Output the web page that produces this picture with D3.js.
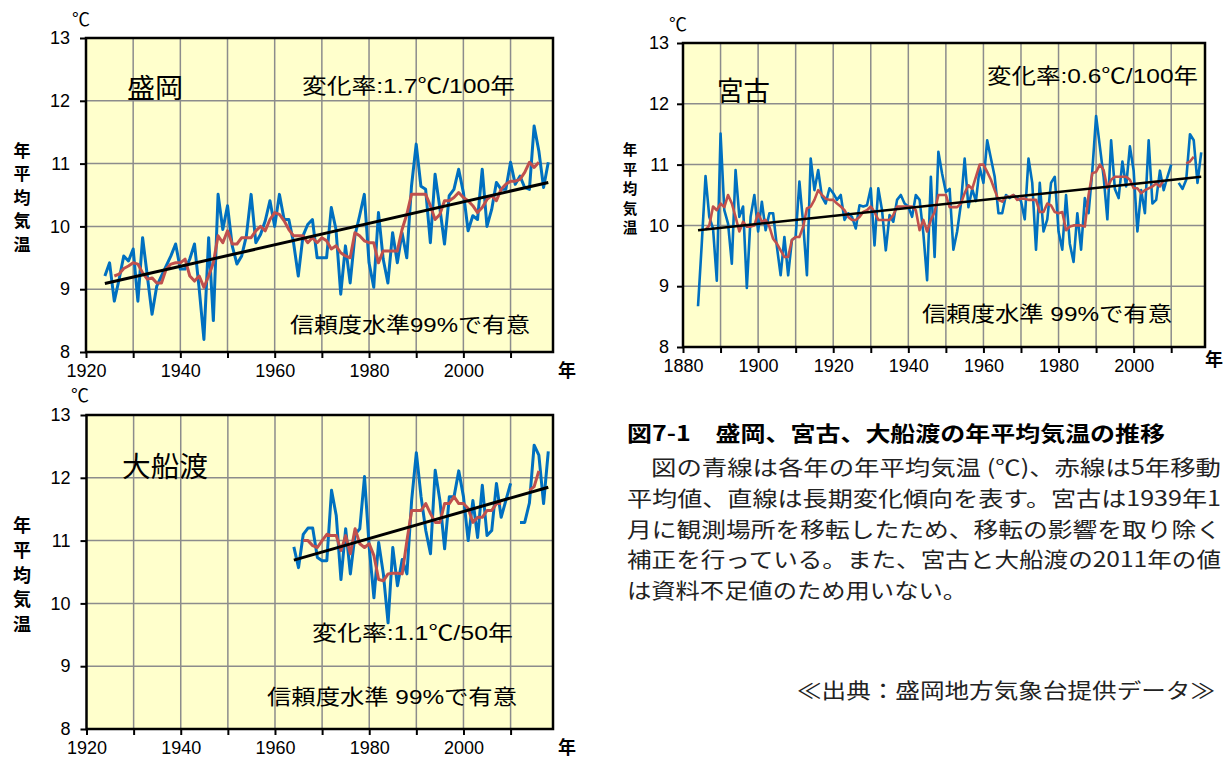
<!DOCTYPE html>
<html><head><meta charset="utf-8">
<script src="https://cdn.jsdelivr.net/npm/d3@7"></script>
<style>body{margin:0;background:#fff;}svg{display:block}</style>
</head><body>
<svg id="c" width="1230" height="758"></svg>
<script>
// ---------------- DATA ----------------
const yTicks = [8, 9, 10, 11, 12, 13];
const modernXTicks = [1920, 1930, 1940, 1950, 1960, 1970, 1980, 1990, 2000, 2010];
const modernXLabels = [1920, 1940, 1960, 1980, 2000];
const miyakoXTicks = [1880, 1890, 1900, 1910, 1920, 1930, 1940, 1950, 1960, 1970, 1980, 1990, 2000, 2010];
const miyakoXLabels = [1880, 1900, 1920, 1940, 1960, 1980, 2000];

// 盛岡 annual mean temperature, 1924-2018
const moriokaStart = 1924;
const moriokaTemp = [
  9.21, 9.42, 8.81, 9.15, 9.53, 9.45,
  9.64, 8.81, 9.82, 9.21, 8.60, 9.05, 9.21, 9.37, 9.53, 9.72,
  9.32, 9.32, 9.48, 9.72, 9.00, 8.20, 9.82, 8.50, 10.51, 9.95,
  10.33, 9.69, 9.40, 9.53, 9.85, 10.51, 9.74, 9.87, 10.09, 10.41,
  10.00, 10.51, 10.11, 10.11, 9.74, 9.21, 9.85, 10.03, 10.11, 9.50,
  9.50, 9.50, 10.30, 9.95, 8.92, 9.69, 9.10, 9.85, 10.17, 10.51,
  9.42, 9.03, 10.22, 9.48, 9.10, 9.90, 9.42, 9.90, 9.50, 10.64,
  11.31, 10.64, 10.59, 9.74, 10.83, 10.30, 9.72, 10.49, 10.59, 10.91,
  10.54, 9.93, 10.17, 10.11, 10.91, 10.00, 10.27, 10.70, 10.59, 10.59,
  11.02, 10.67, 10.80, 10.62, 10.59, 11.60, 11.20, 10.62, 11.02
];
// 盛岡 5-year moving average, 1926-2016
const moriokaAvgStart = 1926;
const moriokaAvg = [
  9.21, 9.24, 9.33, 9.37,
  9.42, 9.40, 9.26, 9.16, 9.18, 9.10, 9.10, 9.32, 9.40, 9.42,
  9.42, 9.48, 9.21, 9.13, 9.21, 9.03, 9.21, 9.42, 9.85, 9.74,
  9.93, 9.72, 9.72, 9.82, 9.82, 9.82, 9.93, 10.00, 9.93, 10.11,
  10.22, 10.19, 10.09, 9.95, 9.85, 9.85, 9.85, 9.74, 9.82, 9.74,
  9.82, 9.77, 9.64, 9.69, 9.58, 9.53, 9.50, 9.90, 9.85, 9.77,
  9.74, 9.74, 9.42, 9.61, 9.61, 9.61, 9.61, 9.95, 10.19, 10.51,
  10.51, 10.51, 10.51, 10.33, 10.11, 10.19, 10.41, 10.41, 10.46, 10.54,
  10.46, 10.41, 10.33, 10.22, 10.30, 10.43, 10.49, 10.41, 10.59, 10.67,
  10.72, 10.72, 10.75, 10.86, 11.02, 10.94, 11.02
];
const moriokaTrendYears = [1924, 2018];
const moriokaTrend = [9.09, 10.70];

// 宮古 annual mean temperature, 1884-2018 (2011 missing)
const miyakoStart = 1884;
const miyakoTemp = [
  8.67, 9.70, 10.81, 10.14, 9.95, 9.09,
  11.51, 10.25, 10.03, 9.37, 10.91, 10.14, 10.31, 8.97, 10.14, 10.50,
  9.90, 10.39, 9.92, 10.20, 10.20, 9.65, 9.18, 9.81, 9.18, 9.76,
  9.81, 10.72, 10.03, 9.18, 11.10, 10.58, 10.91, 10.47, 10.36, 10.61,
  10.53, 10.42, 10.50, 10.09, 10.20, 10.14, 9.95, 10.33, 10.31, 10.33,
  10.61, 9.67, 10.61, 10.25, 9.59, 10.17, 10.06, 10.42, 10.50, 10.36,
  10.31, 10.14, 10.50, 10.42, 9.87, 9.10, 10.80, 9.48, 11.21, 10.85,
  10.55, 10.60, 9.60, 9.90, 10.35, 11.10, 10.30, 10.60, 10.40, 10.95,
  10.70, 11.40, 11.10, 10.80, 10.20, 10.20, 10.50, 10.45, 10.50, 10.45,
  10.40, 10.10, 11.10, 10.70, 9.60, 10.70, 9.90, 10.10, 10.70, 10.80,
  9.90, 9.60, 10.50, 9.70, 9.40, 10.20, 9.60, 10.45, 10.20, 10.90,
  11.80, 11.30, 10.80, 10.10, 11.40, 10.60, 10.45, 11.05, 10.64, 11.30,
  10.90, 9.90, 10.58, 10.20, 11.40, 10.36, 10.42, 10.90, 10.58, 10.80,
  11.00, null, 10.70, 10.60, 10.75, 11.50, 11.40, 10.70, 11.20
];
// 宮古 5-year moving average, 1886-2016
const miyakoAvgStart = 1886;
const miyakoAvg = [
  9.93, 10.00, 10.31, 10.25,
  10.36, 10.30, 10.50, 10.36, 10.14, 9.90, 10.06, 9.98, 9.98, 10.00,
  10.20, 10.06, 10.09, 9.98, 9.78, 9.70, 9.59, 9.48, 9.48, 9.76,
  9.81, 9.81, 9.98, 10.28, 10.31, 10.42, 10.58, 10.50, 10.44, 10.42,
  10.42, 10.36, 10.31, 10.25, 10.14, 10.09, 10.09, 10.14, 10.22, 10.25,
  10.31, 10.22, 10.09, 10.09, 10.09, 10.09, 10.17, 10.31, 10.31, 10.31,
  10.31, 10.31, 10.25, 9.92, 10.09, 9.90, 10.09, 10.22, 10.50, 10.50,
  10.50, 10.30, 10.30, 10.30, 10.36, 10.53, 10.66, 10.60, 10.80, 11.00,
  11.00, 10.88, 10.75, 10.58, 10.42, 10.39, 10.47, 10.47, 10.50, 10.42,
  10.44, 10.44, 10.42, 10.42, 10.42, 10.22, 10.22, 10.36, 10.33, 10.22,
  10.20, 10.22, 9.92, 9.98, 10.00, 10.00, 10.00, 9.98, 10.50, 10.86,
  10.88, 11.00, 10.91, 10.61, 10.75, 10.80, 10.80, 10.80, 10.80, 10.75,
  10.61, 10.61, 10.53, 10.58, 10.61, 10.64, 10.69, 10.64, 10.75, null,
  null, null, null, null, 11.02, 11.05, 11.13
];
const miyakoTrendYears = [1884, 2018];
const miyakoTrend = [9.92, 10.80];

// 大船渡 annual mean temperature, 1964-2018 (2011 missing)
const ofunatoStart = 1964;
const ofunatoTemp = [
  10.90, 10.57, 11.10, 11.20, 11.20, 10.73,
  10.68, 10.68, 11.80, 11.40, 10.38, 11.19, 10.47, 11.10, 11.19, 12.02,
  10.89, 10.09, 10.97, 10.47, 9.69, 10.89, 10.28, 10.70, 10.47, 11.64,
  12.40, 11.70, 11.16, 10.79, 12.12, 11.64, 10.87, 11.70, 11.70, 12.11,
  11.70, 11.00, 11.64, 11.05, 11.88, 11.08, 11.16, 11.91, 11.37, 11.64,
  11.91, null, 11.29, 11.29, 11.60, 12.52, 12.36, 11.59, 12.42
];
// 大船渡 5-year moving average, 1966-2016
const ofunatoAvgStart = 1966;
const ofunatoAvg = [
  11.00, 11.00, 10.92, 10.89,
  11.00, 11.10, 11.08, 11.08, 10.84, 11.08, 10.79, 11.19, 10.95, 10.89,
  10.95, 10.76, 10.38, 10.36, 10.47, 10.48, 10.48, 10.47, 11.00, 11.48,
  11.48, 11.48, 11.59, 11.43, 11.29, 11.29, 11.59, 11.59, 11.70, 11.59,
  11.59, 11.51, 11.29, 11.37, 11.37, 11.48, 11.48, 11.59, 11.59, null,
  null, null, null, null, 11.80, 11.86, 12.11
];
const ofunatoTrendYears = [1964, 2018];
const ofunatoTrend = [10.69, 11.85];

// ---------------- DRAWING ----------------
const svg = d3.select('#c');
const CJK = '"Noto Sans CJK JP", sans-serif';
const NUM = '"Liberation Sans", Arial, "Noto Sans CJK JP", sans-serif';
const NUMN = '"Liberation Sans Narrow", "Arial Narrow", "Liberation Sans", sans-serif';

function series(start, vals) { return vals.map((v, i) => [start + i, v]); }

function panel(c) {
  const x = d3.scaleLinear().domain(c.xDomain).range([c.left, c.right]);
  const y = d3.scaleLinear().domain([yTicks[0], yTicks[yTicks.length - 1]]).range([c.bottom, c.top]);
  const g = svg.append('g');

  g.append('rect').attr('x', c.left).attr('y', c.top)
    .attr('width', c.right - c.left).attr('height', c.bottom - c.top).attr('fill', '#FFFFCC');

  g.append('g').selectAll('line').data(c.xTicks.filter(t => t > c.xDomain[0])).join('line')
    .attr('x1', d => x(d)).attr('x2', d => x(d)).attr('y1', c.top).attr('y2', c.bottom)
    .attr('stroke', '#8c8c8c').attr('stroke-width', 1.5);
  g.append('g').selectAll('line').data(yTicks.slice(1, -1)).join('line')
    .attr('y1', d => y(d)).attr('y2', d => y(d)).attr('x1', c.left).attr('x2', c.right)
    .attr('stroke', '#8c8c8c').attr('stroke-width', 1.5);

  const line = d3.line().defined(d => d[1] != null).x(d => x(d[0])).y(d => y(d[1]));
  g.append('path').datum(series(c.start, c.temp)).attr('d', line)
    .attr('fill', 'none').attr('stroke', '#0070C0').attr('stroke-width', c.lw).attr('stroke-linejoin', 'round');
  g.append('path').datum(series(c.avgStart, c.avg)).attr('d', line)
    .attr('fill', 'none').attr('stroke', '#C0504D').attr('stroke-width', c.lw).attr('stroke-linejoin', 'round');
  g.append('path').datum(c.trendYears.map((yr, i) => [yr, c.trend[i]])).attr('d', line)
    .attr('fill', 'none').attr('stroke', '#000').attr('stroke-width', c.lw);

  g.append('rect').attr('x', c.left).attr('y', c.top)
    .attr('width', c.right - c.left).attr('height', c.bottom - c.top)
    .attr('fill', 'none').attr('stroke', '#000').attr('stroke-width', 2.5);

  const ay = g.append('g').attr('transform', `translate(${c.left},0)`)
    .call(d3.axisLeft(y).tickValues(yTicks).tickSize(6).tickPadding(c.yPad).tickFormat(d3.format('d')));
  ay.select('.domain').remove();
  ay.selectAll('line').attr('stroke', '#000').attr('stroke-width', 2);
  ay.selectAll('text').style('font-family', c.numFont).style('font-size', c.numSize + 'px').attr('fill', '#000');

  const ax = g.append('g').attr('transform', `translate(0,${c.bottom})`)
    .call(d3.axisBottom(x).tickValues(c.xTicks).tickSize(6).tickPadding(6)
      .tickFormat(d => c.xLabels.includes(d) ? String(d) : ''));
  ax.select('.domain').remove();
  ax.selectAll('line').attr('stroke', '#000').attr('stroke-width', 2);
  ax.selectAll('text').style('font-family', c.numFont).style('font-size', c.numSize + 'px').attr('fill', '#000');

  // unit ℃
  g.append('text').attr('x', c.degX).attr('y', c.degY).attr('text-anchor', 'middle')
    .attr('dominant-baseline', 'central').attr('font-family', NUM).attr('font-size', 18).text('℃');
  // 年 (x unit)
  g.append('text').attr('x', c.yearX).attr('y', c.yearY).attr('text-anchor', 'middle')
    .attr('dominant-baseline', 'central').attr('font-family', CJK).attr('font-weight', 'bold')
    .attr('font-size', 18).text('年');
  // y title (vertical)
  Array.from('年平均気温').forEach((ch, i) => {
    g.append('text').attr('x', c.ttlX).attr('y', c.ttlY + i * c.ttlStep).attr('text-anchor', 'middle')
      .attr('dominant-baseline', 'central').attr('font-family', CJK).attr('font-weight', 'bold')
      .attr('font-size', c.ttlSize).text(ch);
  });
  // texts inside plot
  c.labels.forEach(l => {
    g.append('text').attr('x', l.x).attr('y', l.y).attr('dominant-baseline', 'central')
      .attr('font-family', l.num ? NUM : CJK).attr('font-size', l.size)
      .attr('textLength', l.w).attr('lengthAdjust', 'spacingAndGlyphs').attr('fill', '#000').text(l.t);
  });
}

panel({
  left: 86, right: 553, top: 38, bottom: 352, xDomain: [1920, 2019],
  xTicks: modernXTicks, xLabels: modernXLabels,
  start: moriokaStart, temp: moriokaTemp, avgStart: moriokaAvgStart, avg: moriokaAvg,
  trendYears: moriokaTrendYears, trend: moriokaTrend, lw: 3,
  numFont: NUM, numSize: 18, yPad: 10,
  degX: 81, degY: 20, yearX: 567, yearY: 369,
  ttlX: 22, ttlY: 149, ttlStep: 23.5, ttlSize: 17,
  labels: [
    { t: '盛岡', x: 127, y: 86, size: 27, w: 56 },
    { t: '変化率:1.7℃/100年', x: 302, y: 85, size: 21, w: 213, num: true },
    { t: '信頼度水準99%で有意', x: 290, y: 324, size: 21, w: 240, num: true }
  ]
});

panel({
  left: 683, right: 1205, top: 43, bottom: 347, xDomain: [1880, 2019],
  xTicks: miyakoXTicks, xLabels: miyakoXLabels,
  start: miyakoStart, temp: miyakoTemp, avgStart: miyakoAvgStart, avg: miyakoAvg,
  trendYears: miyakoTrendYears, trend: miyakoTrend, lw: 2.6,
  numFont: NUMN, numSize: 18, yPad: 8,
  degX: 678, degY: 25, yearX: 1214, yearY: 358,
  ttlX: 630, ttlY: 148.5, ttlStep: 19.5, ttlSize: 14.5,
  labels: [
    { t: '宮古', x: 717, y: 89, size: 27, w: 53 },
    { t: '変化率:0.6℃/100年', x: 987, y: 75, size: 21, w: 211, num: true },
    { t: '信頼度水準 99%で有意', x: 922, y: 313, size: 21, w: 250, num: true }
  ]
});

panel({
  left: 86.5, right: 553, top: 415, bottom: 729, xDomain: [1920, 2019],
  xTicks: modernXTicks, xLabels: modernXLabels,
  start: ofunatoStart, temp: ofunatoTemp, avgStart: ofunatoAvgStart, avg: ofunatoAvg,
  trendYears: ofunatoTrendYears, trend: ofunatoTrend, lw: 3,
  numFont: NUM, numSize: 18, yPad: 10,
  degX: 80, degY: 396, yearX: 567, yearY: 746,
  ttlX: 22, ttlY: 524, ttlStep: 24.75, ttlSize: 18,
  labels: [
    { t: '大船渡', x: 122, y: 465, size: 28, w: 86 },
    { t: '変化率:1.1℃/50年', x: 312, y: 632, size: 21, w: 201, num: true },
    { t: '信頼度水準 99%で有意', x: 267, y: 696, size: 21, w: 250, num: true }
  ]
});

// ---------------- CAPTION ----------------
const captionTitle = '図7-1　盛岡、宮古、大船渡の年平均気温の推移';
const captionLines = [
  '図の青線は各年の年平均気温 (℃)、赤線は5年移動',
  '平均値、直線は長期変化傾向を表す。宮古は1939年1',
  '月に観測場所を移転したため、移転の影響を取り除く',
  '補正を行っている。また、宮古と大船渡の2011年の値',
  'は資料不足値のため用いない。'
];
const sourceText = '≪出典：盛岡地方気象台提供データ≫';

svg.append('text').attr('x', 627).attr('y', 432).attr('dominant-baseline', 'central')
  .attr('font-family', CJK).attr('font-weight', 'bold').attr('font-size', 21)
  .attr('textLength', 538).attr('lengthAdjust', 'spacingAndGlyphs').text(captionTitle);

const lineX = [651, 627, 627, 627, 627];
const lineW = [570, 594, 594, 594, 340];
captionLines.forEach((t, i) => {
  svg.append('text').attr('x', lineX[i]).attr('y', 466 + i * 30.8).attr('dominant-baseline', 'central')
    .attr('font-family', CJK).attr('font-size', 21).attr('fill', '#222')
    .attr('textLength', lineW[i]).attr('lengthAdjust', 'spacingAndGlyphs').text(t);
});

svg.append('text').attr('x', 797).attr('y', 689).attr('dominant-baseline', 'central')
  .attr('font-family', CJK).attr('font-size', 21).attr('fill', '#222')
  .attr('textLength', 418).attr('lengthAdjust', 'spacingAndGlyphs').text(sourceText);
</script>
</body></html>
